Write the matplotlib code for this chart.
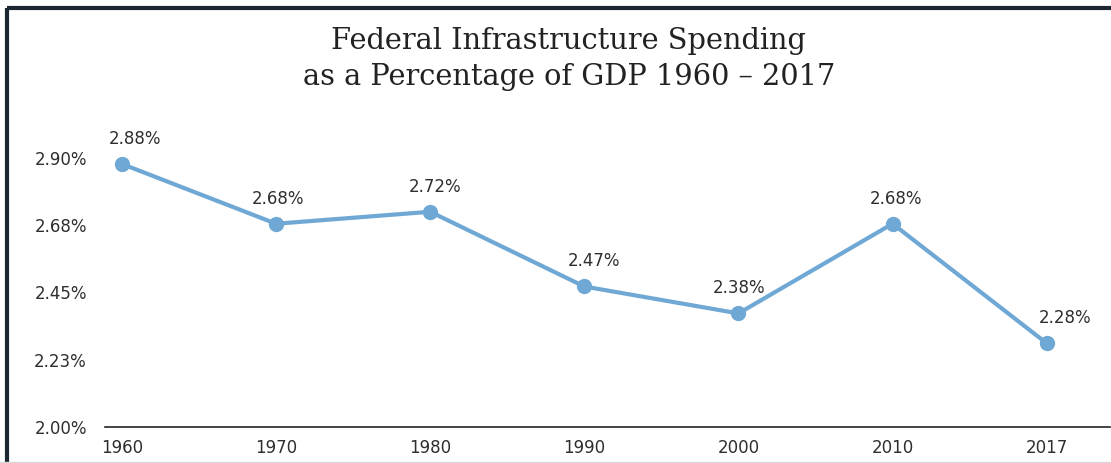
import matplotlib.pyplot as plt
from matplotlib.lines import Line2D

# Federal infrastructure spending, % of GDP
years = ['1960', '1970', '1980', '1990', '2000', '2010', '2017']
spending = [2.88, 2.68, 2.72, 2.47, 2.38, 2.68, 2.28]
point_labels = ['2.88%', '2.68%', '2.72%', '2.47%', '2.38%', '2.68%', '2.28%']

y_ticks = [2.00, 2.225, 2.45, 2.675, 2.90]
y_tick_labels = ['2.00%', '2.23%', '2.45%', '2.68%', '2.90%']

line_color = '#6fa8d4'
text_color = '#2e2e2e'
plt.rcParams['font.family'] = ['DejaVu Sans']

fig = plt.figure(figsize=(11.11, 4.63), dpi=100)
ax = fig.add_axes([0.0945, 0.0778, 0.9045, 0.581])

x = list(range(len(years)))
ax.plot(x, spending, color=line_color, linewidth=3.0, marker='o',
        markersize=10, solid_capstyle='round', clip_on=False, zorder=3)

# value labels above each point (ends nudged a bit to the right)
nudges = [13, 2, 5, 10, 1, 3, 18]
for xi, val, lab, dx in zip(x, spending, point_labels, nudges):
    ax.annotate(lab, (xi, val), xytext=(dx, 25), textcoords='offset pixels',
                ha='center', va='center', fontsize=12, color=text_color,
                annotation_clip=False)

ax.set_xlim(-0.11, 6.41)
ax.set_ylim(2.0, 2.9)
ax.set_xticks(x)
ax.set_xticklabels(years)
ax.set_yticks(y_ticks)
ax.set_yticklabels(y_tick_labels)
ax.tick_params(axis='both', length=0, labelsize=12, colors=text_color)
ax.tick_params(axis='x', pad=9)
ax.tick_params(axis='y', pad=13)

for side in ['top', 'right', 'left']:
    ax.spines[side].set_visible(False)
ax.spines['bottom'].set_color('#222222')
ax.spines['bottom'].set_linewidth(1.2)

fig.text(0.512, 0.872, 'Federal Infrastructure Spending\nas a Percentage of GDP 1960 \u2013 2017',
         ha='center', va='center', fontsize=20.8, family='DejaVu Serif',
         color='#222222', linespacing=1.38)

# dark frame along the top and left edges
fig.add_artist(Line2D([0.0063, 1.0], [0.9827, 0.9827], transform=fig.transFigure,
                      color='#1d2731', linewidth=3.0, solid_capstyle='butt'))
fig.add_artist(Line2D([0.0063, 0.0063], [0.0, 0.9827], transform=fig.transFigure,
                      color='#1d2731', linewidth=3.0, solid_capstyle='butt'))
fig.add_artist(Line2D([0.0, 1.0], [0.003, 0.003], transform=fig.transFigure,
                      color='#d5d7d9', linewidth=1.0))

fig.savefig('out.png', dpi=100)
